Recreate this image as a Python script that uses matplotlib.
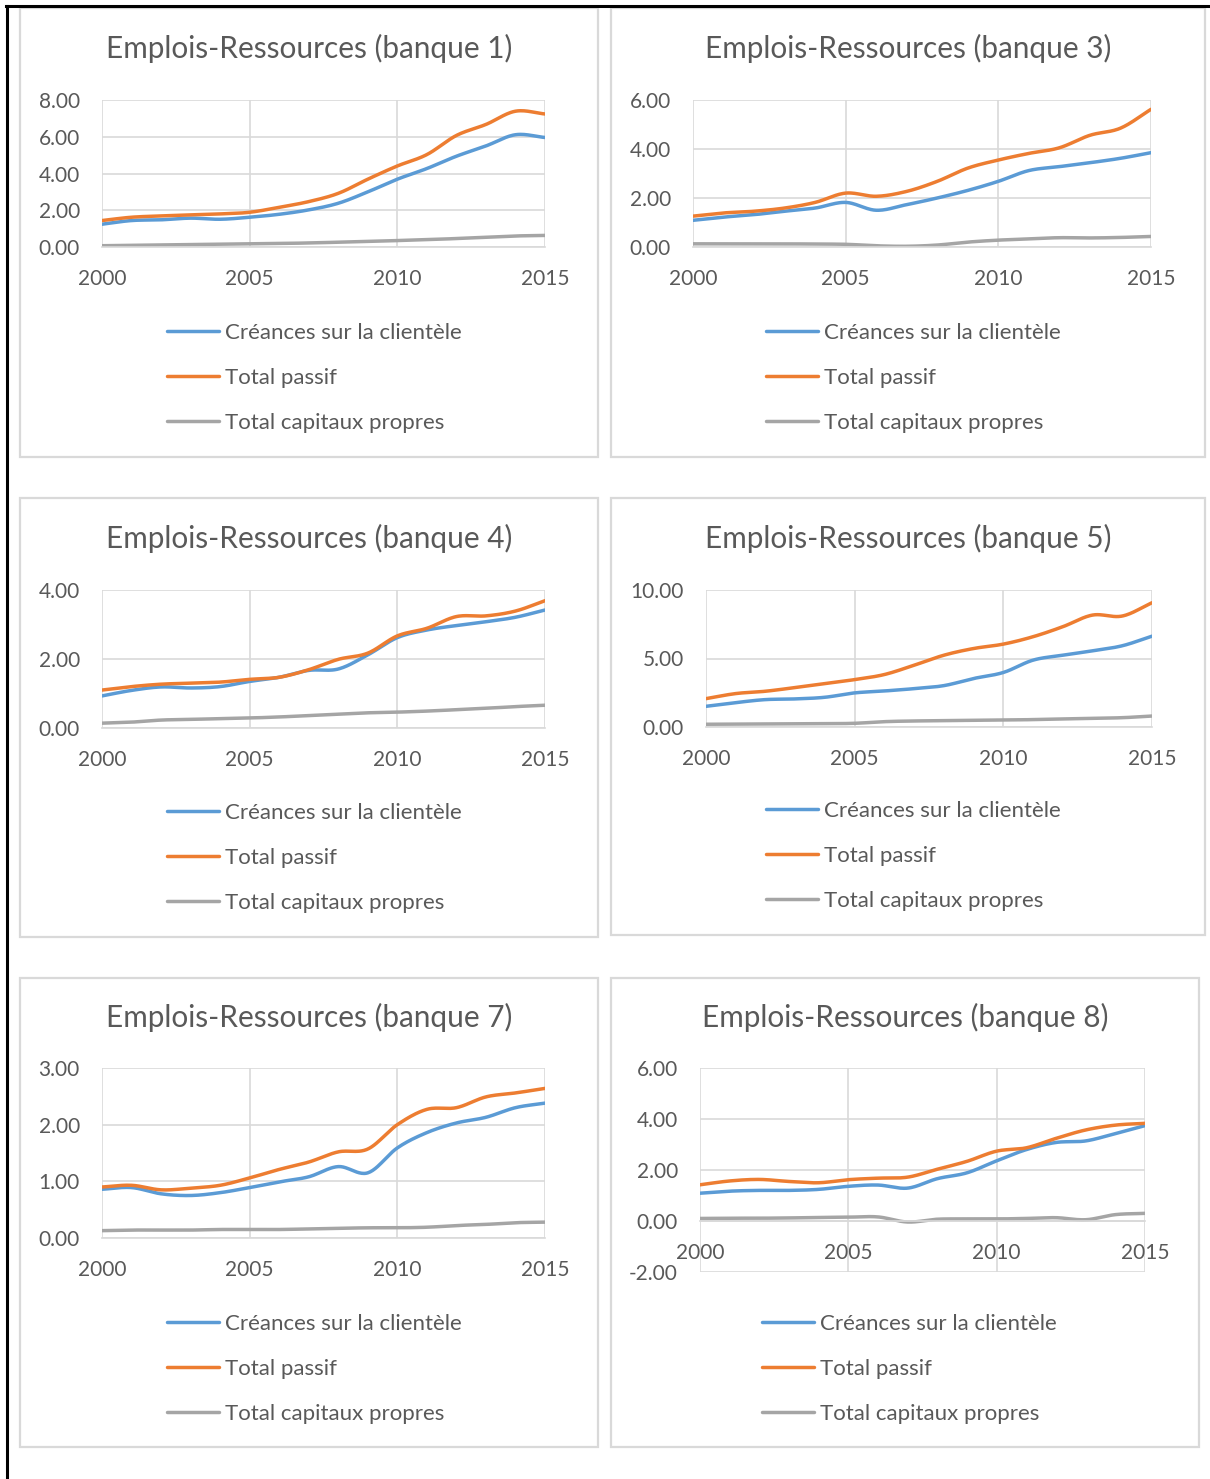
import matplotlib
matplotlib.use('Agg')
import matplotlib.pyplot as plt
from matplotlib.patches import Rectangle
from matplotlib.lines import Line2D
import numpy as np

plt.rcParams['font.family'] = ['Lato', 'DejaVu Sans']

# années (axe X commun)
years = [2000, 2001, 2002, 2003, 2004, 2005, 2006, 2007,
         2008, 2009, 2010, 2011, 2012, 2013, 2014, 2015]
series_names = ["Créances sur la clientèle", "Total passif", "Total capitaux propres"]

# banque 1
b1_creances = [1.24, 1.44, 1.48, 1.57, 1.51, 1.62, 1.78, 2.02, 2.38, 3.00, 3.69, 4.27, 4.94, 5.50, 6.11, 5.96]
b1_passif = [1.44, 1.62, 1.69, 1.75, 1.80, 1.89, 2.16, 2.47, 2.92, 3.69, 4.41, 5.03, 6.07, 6.67, 7.39, 7.24]
b1_capitaux = [0.07, 0.09, 0.11, 0.13, 0.15, 0.17, 0.19, 0.22, 0.26, 0.30, 0.35, 0.40, 0.46, 0.53, 0.60, 0.63]

# banque 3
b3_creances = [1.09, 1.22, 1.32, 1.46, 1.59, 1.82, 1.50, 1.73, 2.00, 2.31, 2.68, 3.12, 3.28, 3.44, 3.62, 3.85]
b3_passif = [1.26, 1.39, 1.46, 1.59, 1.82, 2.20, 2.07, 2.27, 2.68, 3.22, 3.55, 3.82, 4.05, 4.56, 4.85, 5.62]
b3_capitaux = [0.13, 0.13, 0.13, 0.13, 0.12, 0.11, 0.05, 0.03, 0.08, 0.20, 0.28, 0.33, 0.38, 0.37, 0.39, 0.43]

# banque 4
b4_creances = [0.93, 1.09, 1.19, 1.16, 1.20, 1.35, 1.47, 1.67, 1.71, 2.12, 2.62, 2.84, 2.97, 3.08, 3.21, 3.42]
b4_passif = [1.10, 1.20, 1.27, 1.30, 1.33, 1.41, 1.47, 1.69, 1.99, 2.17, 2.67, 2.89, 3.23, 3.25, 3.39, 3.69]
b4_capitaux = [0.14, 0.17, 0.23, 0.25, 0.27, 0.29, 0.32, 0.36, 0.40, 0.44, 0.46, 0.49, 0.53, 0.57, 0.62, 0.66]

# banque 5
b5_creances = [1.51, 1.78, 2.00, 2.05, 2.17, 2.49, 2.63, 2.80, 3.02, 3.54, 3.98, 4.88, 5.24, 5.56, 5.93, 6.63]
b5_passif = [2.07, 2.44, 2.61, 2.88, 3.17, 3.46, 3.83, 4.51, 5.24, 5.73, 6.05, 6.59, 7.32, 8.17, 8.10, 9.07]
b5_capitaux = [0.20, 0.21, 0.22, 0.23, 0.24, 0.27, 0.39, 0.44, 0.46, 0.49, 0.51, 0.54, 0.59, 0.63, 0.68, 0.80]

# banque 7
b7_creances = [0.86, 0.89, 0.78, 0.75, 0.80, 0.89, 0.99, 1.08, 1.26, 1.15, 1.59, 1.86, 2.03, 2.13, 2.30, 2.38]
b7_passif = [0.90, 0.93, 0.85, 0.88, 0.93, 1.06, 1.21, 1.34, 1.52, 1.57, 2.00, 2.27, 2.30, 2.49, 2.56, 2.64]
b7_capitaux = [0.13, 0.14, 0.14, 0.14, 0.15, 0.15, 0.15, 0.16, 0.17, 0.18, 0.18, 0.19, 0.22, 0.24, 0.27, 0.28]

# banque 8
b8_creances = [1.09, 1.17, 1.20, 1.20, 1.24, 1.36, 1.41, 1.29, 1.66, 1.89, 2.36, 2.80, 3.08, 3.14, 3.43, 3.74]
b8_passif = [1.42, 1.57, 1.63, 1.55, 1.50, 1.62, 1.68, 1.72, 2.03, 2.34, 2.74, 2.87, 3.24, 3.57, 3.76, 3.83]
b8_capitaux = [0.10, 0.11, 0.11, 0.12, 0.14, 0.15, 0.16, -0.04, 0.07, 0.08, 0.08, 0.10, 0.13, 0.05, 0.25, 0.30]

colors = ['#5B9BD5', '#ED7D31', '#A5A5A5']
txt_col = '#595959'
grid_col = '#D9D9D9'

W, H = 1210, 1479
fig = plt.figure(figsize=(W / 100, H / 100), dpi=100)


def rect(l, t, r, b):
    return [l / W, 1 - b / H, (r - l) / W, (b - t) / H]


def smooth(x, y, n=24):
    # lissage type Excel (Catmull-Rom) pour le tracé
    p = np.column_stack([np.asarray(x, float), np.asarray(y, float)])
    pe = np.vstack([2 * p[0] - p[1], p, 2 * p[-1] - p[-2]])
    t = np.linspace(0, 1, n, endpoint=False)[:, None]
    out = []
    for i in range(1, len(pe) - 2):
        p0, p1, p2, p3 = pe[i - 1], pe[i], pe[i + 1], pe[i + 2]
        seg = 0.5 * ((2 * p1) + (-p0 + p2) * t + (2 * p0 - 5 * p1 + 4 * p2 - p3) * t ** 2
                     + (-p0 + 3 * p1 - 3 * p2 + p3) * t ** 3)
        out.append(seg)
    out.append(p[-1:])
    out = np.vstack(out)
    return out[:, 0], out[:, 1]


# (titre, séries, ylim, pas, zone de tracé, cadre, y titre, légende x, légende y)
panels = [
    ("Emplois-Ressources (banque 1)", [b1_creances, b1_passif, b1_capitaux], (0, 8), 2,
     (102, 100, 545, 247), (20, 8, 598, 457), 48, 167, 332),
    ("Emplois-Ressources (banque 3)", [b3_creances, b3_passif, b3_capitaux], (0, 6), 2,
     (693, 100, 1151, 247), (611, 8, 1205, 457), 48, 766, 332),
    ("Emplois-Ressources (banque 4)", [b4_creances, b4_passif, b4_capitaux], (0, 4), 2,
     (102, 590, 545, 728), (20, 498, 598, 937), 538, 167, 812),
    ("Emplois-Ressources (banque 5)", [b5_creances, b5_passif, b5_capitaux], (0, 10), 5,
     (706, 590, 1152, 727), (611, 498, 1205, 935), 538, 766, 810),
    ("Emplois-Ressources (banque 7)", [b7_creances, b7_passif, b7_capitaux], (0, 3), 1,
     (102, 1068, 545, 1238), (20, 978, 598, 1447), 1017, 167, 1323),
    ("Emplois-Ressources (banque 8)", [b8_creances, b8_passif, b8_capitaux], (-2, 6), 2,
     (700, 1068, 1145, 1272), (611, 978, 1199, 1447), 1017, 762, 1323),
]

for title, data, ylim, step, prect, box, ty, lx, ly in panels:
    # cadre du graphique
    bl, bt, br, bb = box
    fig.add_artist(Rectangle((bl / W, 1 - bb / H), (br - bl) / W, (bb - bt) / H,
                             transform=fig.transFigure, fill=False,
                             edgecolor=grid_col, lw=1.6))
    fig.text((bl + br) / 2 / W, 1 - ty / H, title, ha='center', va='center',
             fontsize=21.4, color=txt_col)

    ax = fig.add_axes(rect(*prect))
    handles = []
    for vals, c, name in zip(data, colors, series_names):
        sx, sy = smooth(years, vals)
        h, = ax.plot(sx, sy, color=c, lw=2.5, solid_capstyle='round', label=name)
        handles.append(h)

    ax.set_xlim(2000, 2015)
    ax.set_ylim(*ylim)
    ax.set_xticks([2000, 2005, 2010, 2015])
    ax.set_yticks(np.arange(ylim[0], ylim[1] + 0.001, step))
    ax.yaxis.set_major_formatter(matplotlib.ticker.FormatStrFormatter('%.2f'))
    ax.grid(True, color=grid_col, lw=1.2)
    ax.set_axisbelow(True)
    for s in ['top', 'right', 'left']:
        ax.spines[s].set_visible(False)
    ax.spines['bottom'].set_color(grid_col)
    ax.spines['bottom'].set_linewidth(1.2)
    if ylim[0] < 0:
        ax.spines['bottom'].set_position(('data', 0))
    ax.tick_params(axis='both', length=0, labelsize=15, labelcolor=txt_col, pad=16)

    ax.legend(handles=handles, loc='upper left',
              bbox_to_anchor=(lx / W, 1 - (ly - 9) / H), bbox_transform=fig.transFigure,
              frameon=False, fontsize=16, handlelength=2.34, handletextpad=0.27,
              labelspacing=1.12, borderpad=0, borderaxespad=0, labelcolor=txt_col)

# bordures noires du tableau
fig.add_artist(Line2D([7 / W, 7 / W], [0, 1 - 6 / H], color='black', lw=2.2,
                      transform=fig.transFigure))
fig.add_artist(Line2D([6 / W, 1], [1 - 6 / H, 1 - 6 / H], color='black', lw=2.2,
                      transform=fig.transFigure))

plt.savefig("out.png", dpi=100)
